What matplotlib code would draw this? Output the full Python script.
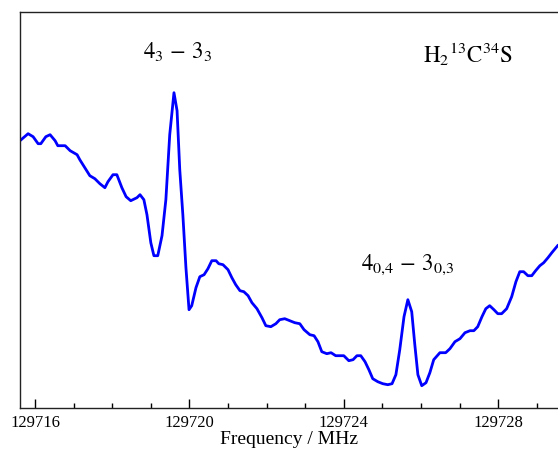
import numpy as np
import matplotlib
matplotlib.use("Agg")
import matplotlib.pyplot as plt
from matplotlib.ticker import MultipleLocator

plt.rcParams["font.family"] = ["Liberation Serif", "DejaVu Serif"]
plt.rcParams["mathtext.fontset"] = "stix"

# spectrum (frequency in MHz, intensity in arb. units)
freq = [
    129715.61, 129715.82, 129715.95, 129716.08, 129716.15, 129716.28, 129716.39,
    129716.52, 129716.59, 129716.78, 129716.91, 129717.09, 129717.16, 129717.29,
    129717.42, 129717.55, 129717.68, 129717.81, 129717.89, 129718.02, 129718.12,
    129718.25, 129718.36, 129718.48, 129718.64, 129718.72, 129718.82, 129718.90,
    129719.00, 129719.08, 129719.18, 129719.29, 129719.39, 129719.49, 129719.60,
    129719.68, 129719.75, 129719.83, 129719.91, 129719.99, 129720.06, 129720.17,
    129720.27, 129720.38, 129720.48, 129720.58, 129720.69, 129720.76, 129720.87,
    129721.00, 129721.10, 129721.20, 129721.31, 129721.41, 129721.52, 129721.62,
    129721.75, 129721.88, 129721.98, 129722.11, 129722.24, 129722.34, 129722.47,
    129722.60, 129722.73, 129722.86, 129722.97, 129723.12, 129723.23, 129723.33,
    129723.43, 129723.56, 129723.67, 129723.79, 129723.90, 129724.00, 129724.13,
    129724.24, 129724.34, 129724.44, 129724.55, 129724.65, 129724.75, 129724.88,
    129725.01, 129725.14, 129725.25, 129725.35, 129725.45, 129725.56, 129725.66,
    129725.76, 129725.84, 129725.92, 129726.02, 129726.13, 129726.23, 129726.33,
    129726.49, 129726.64, 129726.75, 129726.88, 129727.01, 129727.14, 129727.27,
    129727.37, 129727.47, 129727.58, 129727.68, 129727.78, 129727.89, 129727.99,
    129728.09, 129728.22, 129728.35, 129728.46, 129728.56, 129728.66, 129728.77,
    129728.87, 129728.97, 129729.08, 129729.18, 129729.29, 129729.39, 129729.54,
]
intensity = [
    2.67, 2.74, 2.71, 2.64, 2.64, 2.71, 2.73,
    2.67, 2.62, 2.62, 2.57, 2.53, 2.48, 2.40,
    2.32, 2.29, 2.24, 2.20, 2.26, 2.33, 2.33,
    2.20, 2.11, 2.07, 2.10, 2.13, 2.08, 1.93,
    1.65, 1.52, 1.52, 1.72, 2.08, 2.73, 3.15,
    2.97, 2.38, 1.93, 1.40, 0.98, 1.02, 1.20,
    1.31, 1.33, 1.39, 1.47, 1.47, 1.44, 1.43,
    1.38, 1.30, 1.23, 1.17, 1.16, 1.12, 1.05,
    0.99, 0.90, 0.82, 0.81, 0.84, 0.88, 0.89,
    0.87, 0.85, 0.84, 0.78, 0.73, 0.72, 0.66,
    0.56, 0.54, 0.55, 0.52, 0.52, 0.52, 0.47,
    0.48, 0.52, 0.52, 0.46, 0.38, 0.29, 0.26,
    0.24, 0.23, 0.24, 0.33, 0.58, 0.91, 1.08,
    0.96, 0.63, 0.33, 0.22, 0.25, 0.35, 0.48,
    0.55, 0.55, 0.59, 0.66, 0.69, 0.75, 0.77,
    0.77, 0.81, 0.91, 0.99, 1.02, 0.98, 0.94,
    0.94, 0.99, 1.11, 1.26, 1.36, 1.36, 1.32,
    1.32, 1.37, 1.42, 1.45, 1.50, 1.55, 1.62,
]

xticks = [129716, 129720, 129724, 129728]
labels = [
    (129719.70, 3.56, r"$4_3\,-\,3_3$"),
    (129727.21, 3.53, r"$\mathrm{H_2{}^{13}C^{34}S}$"),
    (129725.66, 1.43, r"$4_{0{,}4}\,-\,3_{0{,}3}$"),
]

fig = plt.figure(figsize=(5.58, 4.5), dpi=100)
ax = fig.add_axes([0.0358, 0.094, 0.9642, 0.880])

ax.plot(freq, intensity, color="#0000ff", lw=2.0)

ax.set_xlim(129715.61, 129729.55)
ax.set_ylim(0, 3.96)
ax.set_xticks(xticks)
ax.set_xticklabels([str(t) for t in xticks], fontsize=12)
ax.xaxis.set_minor_locator(MultipleLocator(1))
ax.tick_params(axis="x", which="major", direction="in", length=6.5, width=1, pad=5)
ax.tick_params(axis="x", which="minor", direction="in", length=3.6, width=1)
ax.set_yticks([])
ax.spines["right"].set_visible(False)
for s in ["left", "top", "bottom"]:
    ax.spines[s].set_linewidth(1.0)
    ax.spines[s].set_color("#222222")

ax.set_xlabel("Frequency / MHz", fontsize=14, labelpad=0)

for x, y, t in labels:
    ax.text(x, y, t, fontsize=16.5, ha="center", va="center")

fig.savefig("out.png", dpi=100)
